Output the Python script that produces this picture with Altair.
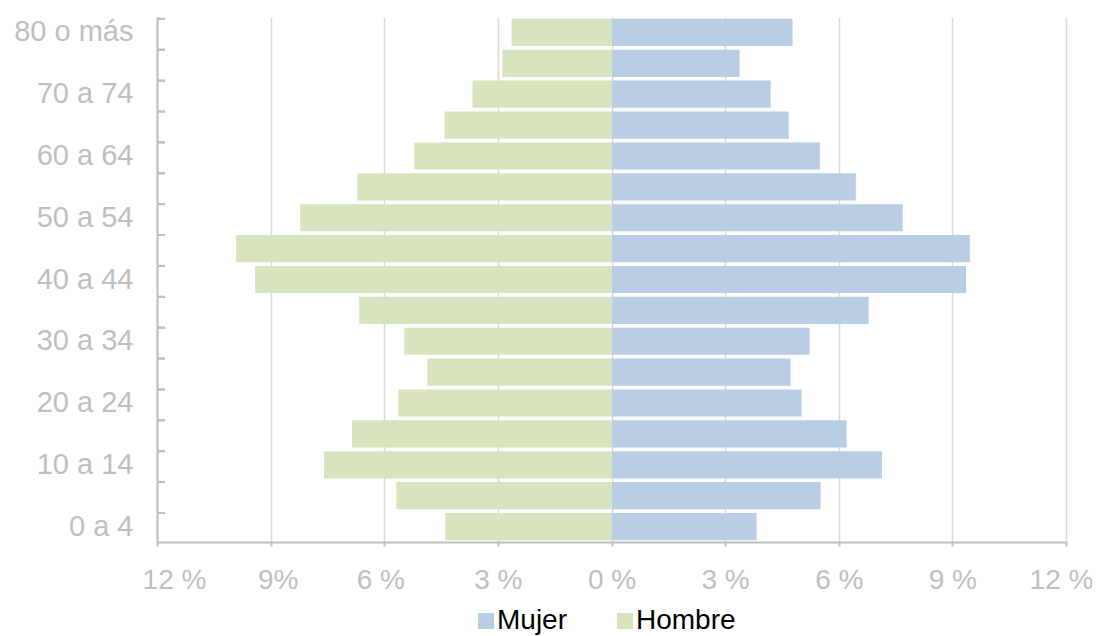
import altair as alt
import pandas as pd

ages = ["0 a 4", "5 a 9", "10 a 14", "15 a 19", "20 a 24", "25 a 29", "30 a 34",
        "35 a 39", "40 a 44", "45 a 49", "50 a 54", "55 a 59", "60 a 64", "65 a 69",
        "70 a 74", "75 a 79", "80 o más"]
mujer = [3.83, 5.52, 7.14, 6.21, 5.02, 4.73, 5.23, 6.79, 9.36, 9.46, 7.69, 6.45,
         5.50, 4.68, 4.20, 3.38, 4.78]
hombre = [4.39, 5.68, 7.59, 6.85, 5.63, 4.86, 5.47, 6.66, 9.41, 9.91, 8.22, 6.71,
          5.21, 4.41, 3.67, 2.88, 2.64]
shown_labels = ["80 o más", "70 a 74", "60 a 64", "50 a 54", "40 a 44",
                "30 a 34", "20 a 24", "10 a 14", "0 a 4"]
x_ticks = [-12, -9, -6, -3, 0, 3, 6, 9, 12]

rows = []
for a, m, h in zip(ages, mujer, hombre):
    rows.append({"age": a, "sexo": "Mujer", "val": m})
    rows.append({"age": a, "sexo": "Hombre", "val": -h})
df = pd.DataFrame(rows)

order = list(reversed(ages))
gray = "#bfbfbf"
font = "Liberation Sans"

label_list = "[" + ",".join("'" + s + "'" for s in shown_labels) + "]"
yaxis = alt.Axis(
    title=None, labelExpr=f"indexof({label_list}, datum.value) >= 0 ? datum.value : ''",
    labelFontSize=29, labelColor=gray, labelFont=font, tickSize=0, labelPadding=24,
    domainColor=gray, domainWidth=2, grid=False,
)
yscale = alt.Scale(paddingInner=0.12, paddingOuter=0.06)

xaxis = alt.Axis(
    title=None, values=x_ticks, labelFlush=False,
    labelExpr="datum.value == -9 ? '9%' : abs(datum.value) + ' %'",
    labelFontSize=28, labelColor=gray, labelFont=font, labelPadding=20,
    labelOffset={"condition": [{"test": "datum.value == -12", "value": 17},
                               {"test": "datum.value == -9", "value": 7},
                               {"test": "datum.value == -6", "value": -4},
                               {"test": "datum.value == 12", "value": -5}],
                 "value": 0},
    domainColor=gray, domainWidth=2, tickColor=gray, tickSize=4, tickWidth=2,
    gridColor="#d9d9d9", gridWidth=1.5,
)

bars = alt.Chart(df).mark_bar().encode(
    x=alt.X("val:Q", axis=xaxis, scale=alt.Scale(domain=[-12, 12], nice=False)),
    y=alt.Y("age:N", sort=order, axis=yaxis, scale=yscale),
    color=alt.Color("sexo:N", scale=alt.Scale(domain=["Mujer", "Hombre"],
                                               range=["#b9cde5", "#d7e4bd"]),
                    legend=alt.Legend(title=None, orient="none", direction="horizontal",
                                      legendX=315, legendY=590,
                                      symbolType="square", symbolSize=256,
                                      symbolStrokeWidth=0, labelFontSize=28,
                                      labelColor="black", labelFont=font,
                                      columnPadding=43, labelOffset={"expr": "-3"})),
)

ticks = alt.Chart(df).mark_rule(color=gray, strokeWidth=2).encode(
    y=alt.Y("age:N", sort=order, axis=yaxis, bandPosition=0, scale=yscale),
    x=alt.value(0), x2=alt.value(8),
)

chart = alt.layer(bars, ticks).properties(
    width=909, height=525,
    autosize=alt.AutoSizeParams(type="none"),
    padding={"top": 9, "left": 149, "right": 26, "bottom": 96},
).configure_view(stroke=None)

chart.save("out.html", embed_options={"renderer": "svg", "actions": False})
